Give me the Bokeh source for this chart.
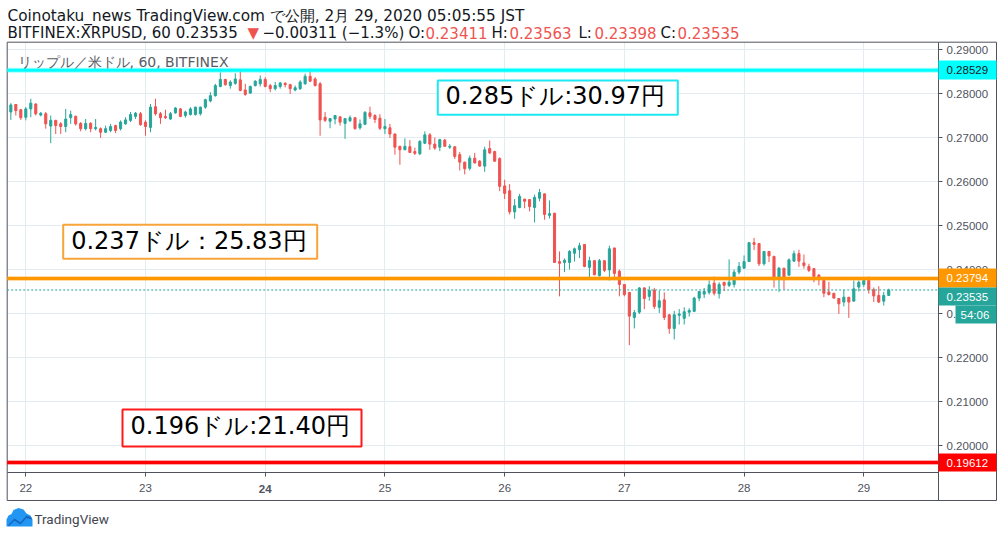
import numpy as np
import pandas as pd
from bokeh.plotting import figure
from bokeh.models import (ColumnDataSource, Label, BoxAnnotation, PolyAnnotation,
                          FixedTicker, NumeralTickFormatter, Range1d)
from bokeh.embed import file_html
from bokeh.resources import INLINE
from bokeh.core.properties import value

# ---------------- data ----------------
first_bar = "2020-02-21 21:00"   # hourly bars, BITFINEX:XRPUSD
opens = [
    .2758, .2775, .2763, .2746, .2765, .2776, .2751, .2754, .2726, .2739,
    .2731, .2725, .2745, .2748, .2732, .2720, .2732, .2720, .2720, .2712,
    .2716, .2727, .2720, .2731, .2739, .2748, .2754, .2735, .2723, .2770,
    .2754, .2748, .2742, .2756, .2765, .2750, .2752, .2752, .2754, .2769,
    .2783, .2795, .2816, .2832, .2818, .2823, .2831, .2808, .2801, .2818,
    .2822, .2832, .2818, .2811, .2816, .2823, .2820, .2808, .2811, .2822,
    .2839, .2833, .2822, .2746, .2737, .2742, .2747, .2732, .2738, .2745,
    .2722, .2730, .2756, .2750, .2744, .2720, .2722, .2708, .2680, .2672,
    .2679, .2668, .2663, .2687, .2706, .2685, .2678, .2694, .2678, .2679,
    .2661, .2644, .2630, .2653, .2646, .2635, .2675, .2668, .2652, .2590,
    .2579, .2531, .2541, .2560, .2559, .2541, .2562, .2572, .2523, .2528,
    .2418, .2416, .2416, .2437, .2445, .2457, .2405, .2420, .2386, .2420,
    .2399, .2449, .2396, .2366, .2348, .2291, .2303, .2358, .2339, .2353,
    .2314, .2331, .2297, .2266, .2296, .2289, .2303, .2305, .2335, .2344,
    .2348, .2369, .2345, .2371, .2364, .2366, .2394, .2403, .2418, .2461,
    .2459, .2413, .2441, .2430, .2383, .2403, .2387, .2419, .2436, .2415,
    .2407, .2402, .2387, .2375, .2349, .2346, .2334, .2326, .2337, .2328,
    .2360, .2366, .2375, .2354, .2341, .2328, .23411,
]
highs = [
    .2778, .2776, .2765, .2769, .2788, .2778, .2758, .2758, .2750, .2740,
    .2735, .2765, .2761, .2750, .2735, .2742, .2735, .2742, .2723, .2727,
    .2731, .2729, .2739, .2746, .2758, .2758, .2758, .2739, .2776, .2788,
    .2758, .2763, .2758, .2769, .2767, .2761, .2769, .2770, .2770, .2788,
    .2803, .2822, .2848, .2833, .2830, .2846, .2852, .2822, .2818, .2830,
    .2841, .2837, .2822, .2826, .2826, .2826, .2822, .2818, .2830, .2845,
    .2856, .2837, .2826, .2758, .2743, .2751, .2747, .2743, .2750, .2745,
    .2741, .2760, .2770, .2753, .2753, .2742, .2731, .2709, .2681, .2698,
    .2694, .2677, .2694, .2714, .2710, .2700, .2697, .2697, .2685, .2679,
    .2667, .2645, .2659, .2665, .2649, .2679, .2693, .2670, .2655, .2604,
    .2594, .2560, .2572, .2560, .2559, .2570, .2583, .2572, .2557, .2528,
    .2441, .2425, .2444, .2450, .2461, .2457, .2429, .2420, .2424, .2420,
    .2454, .2449, .2400, .2367, .2348, .2308, .2360, .2360, .2362, .2358,
    .2352, .2348, .2299, .2306, .2310, .2314, .2312, .2338, .2350, .2358,
    .2375, .2384, .2371, .2371, .2423, .2400, .2417, .2432, .2462, .2472,
    .2459, .2441, .2441, .2430, .2406, .2403, .2425, .2443, .2445, .2434,
    .2413, .2402, .2390, .2375, .2372, .2346, .2334, .2354, .2337, .2375,
    .2375, .2383, .2384, .2359, .2362, .2349, .23563,
]
lows = [
    .2740, .2750, .2740, .2739, .2746, .2750, .2748, .2720, .2687, .2708,
    .2708, .2712, .2731, .2727, .2714, .2716, .2712, .2716, .2699, .2710,
    .2712, .2710, .2716, .2729, .2735, .2742, .2727, .2704, .2712, .2750,
    .2731, .2742, .2740, .2754, .2746, .2745, .2750, .2750, .2750, .2765,
    .2780, .2793, .2814, .2818, .2811, .2820, .2805, .2795, .2799, .2816,
    .2816, .2814, .2803, .2807, .2811, .2814, .2799, .2805, .2808, .2820,
    .2826, .2816, .2704, .2735, .2721, .2730, .2727, .2697, .2735, .2718,
    .2718, .2728, .2742, .2733, .2717, .2708, .2699, .2661, .2638, .2672,
    .2665, .2660, .2660, .2685, .2672, .2672, .2669, .2680, .2674, .2651,
    .2625, .2616, .2625, .2642, .2634, .2622, .2662, .2646, .2578, .2560,
    .2525, .2515, .2539, .2539, .2532, .2507, .2555, .2513, .2516, .2416,
    .2339, .2394, .2400, .2418, .2426, .2405, .2382, .2387, .2384, .2394,
    .2375, .2379, .2339, .2339, .2228, .2266, .2299, .2310, .2329, .2310,
    .2301, .2285, .2254, .2241, .2275, .2275, .2293, .2303, .2328, .2335,
    .2343, .2341, .2334, .2351, .2360, .2359, .2389, .2402, .2417, .2444,
    .2408, .2409, .2417, .2359, .2349, .2354, .2387, .2417, .2406, .2402,
    .2394, .2371, .2364, .2337, .2341, .2334, .2299, .2316, .2290, .2328,
    .2350, .2360, .2345, .2326, .2324, .2318, .23398,
]
closes = [
    .2774, .2761, .2745, .2765, .2778, .2754, .2755, .2731, .2739, .2727,
    .2725, .2742, .2752, .2731, .2720, .2732, .2720, .2723, .2712, .2720,
    .2725, .2716, .2735, .2740, .2752, .2755, .2729, .2725, .2769, .2754,
    .2745, .2745, .2754, .2767, .2748, .2758, .2765, .2769, .2769, .2786,
    .2795, .2818, .2832, .2820, .2826, .2833, .2807, .2798, .2816, .2828,
    .2832, .2816, .2811, .2818, .2824, .2820, .2811, .2813, .2826, .2839,
    .2828, .2818, .2740, .2739, .2743, .2750, .2735, .2743, .2745, .2720,
    .2731, .2757, .2748, .2741, .2721, .2725, .2708, .2678, .2672, .2680,
    .2666, .2664, .2691, .2706, .2685, .2676, .2695, .2680, .2680, .2657,
    .2644, .2629, .2653, .2642, .2635, .2672, .2665, .2646, .2589, .2573,
    .2531, .2545, .2566, .2555, .2543, .2564, .2575, .2525, .2527, .2416,
    .2414, .2421, .2441, .2447, .2454, .2407, .2420, .2388, .2420, .2398,
    .2447, .2391, .2366, .2343, .2294, .2302, .2358, .2334, .2352, .2316,
    .2329, .2291, .2266, .2297, .2299, .2304, .2307, .2335, .2350, .2350,
    .2365, .2346, .2366, .2364, .2371, .2394, .2407, .2418, .2461, .2457,
    .2413, .2441, .2431, .2383, .2403, .2383, .2422, .2436, .2419, .2409,
    .2398, .2384, .2383, .2346, .2343, .2335, .2322, .2337, .2326, .2356,
    .2371, .2375, .2354, .2340, .2326, .2341, .23535,
]
price_ticks = [0.20, 0.21, 0.22, 0.23, 0.24, 0.25, 0.26, 0.27, 0.28, 0.29]
level_prices = [0.28529, 0.23794, 0.19612]
level_colors = ["#00ffff", "#ff9800", "#ff0000"]
last_price = 0.23535
change_text = "−0.00311 (−1.3%)"
countdown = "54:06"
header_line1 = "Coinotaku_news TradingView.com で公開, 2月 29, 2020 05:05:55 JST"
legend_text = "リップル／米ドル, 60, BITFINEX"
note_texts = ["0.285ドル:30.97円", "0.237ドル：25.83円", "0.196ドル:21.40円"]

UP, DOWN = "#26a69a", "#ef5350"
AXIS = "#50535e"
GRID = "#e3ecf2"
DARK, RED = "#131722", "#ef5350"

times = pd.date_range(first_bar, periods=len(opens), freq="h")
idx = np.arange(len(opens))
day_idx = [int(i) for i, t in zip(idx, times) if t.hour == 0]
day_lbl = {int(i): str(times[i].day) for i in day_idx}

o = np.array(opens); c = np.array(closes)
src = ColumnDataSource(dict(
    x=idx, open=o, close=c, high=np.array(highs), low=np.array(lows),
    top=np.maximum(o, c), bottom=np.minimum(o, c),
    color=[UP if cc >= oo else DOWN for oo, cc in zip(o, c)],
))

# ---------------- layout geometry (page pixels) ----------------
W, H = 1000, 536
BAR0_PX, BAR_PX = 10.34, 4.988          # bar 0 centre, px per hourly bar
P0_PX, PX_PER_UNIT = 49.0, 4400.0       # y of 0.29, px per 1.0 of price
CH_L, CH_R, CH_T, CH_B = 6.7, 938.0, 41.7, 472.0   # chart pane
OUT_R, OUT_B = 996.0, 500.0                        # outer pane edges

def X(px):
    return (px - BAR0_PX) / BAR_PX

def Y(py):
    return 0.29 - (py - P0_PX) / PX_PER_UNIT

def SY(py):          # screen units are measured from the canvas bottom
    return H - py

p = figure(width=W, height=H, output_backend="svg", toolbar_location=None, title=None,
           x_range=Range1d(X(0), X(W)), y_range=Range1d(Y(H), Y(0)),
           y_axis_location="right",
           min_border=0, min_border_left=0, min_border_right=0,
           min_border_top=0, min_border_bottom=0)
p.background_fill_color = "white"
p.border_fill_color = "white"
p.outline_line_color = None

# axes (fixed at the pane edges)
ya = p.yaxis[0]
ya.fixed_location = X(CH_R)
ya.bounds = (Y(OUT_B), Y(CH_T))
ya.ticker = FixedTicker(ticks=price_ticks)
ya.formatter = NumeralTickFormatter(format="0.00000")
xa = p.xaxis[0]
xa.fixed_location = Y(CH_B)
xa.bounds = (X(CH_L), X(CH_R))
xa.ticker = FixedTicker(ticks=day_idx)
k24 = [k for k, v in day_lbl.items() if v == "24"][0]
ov = dict(day_lbl)
ov[k24] = ""
xa.major_label_overrides = ov
for ax in (xa, ya):
    ax.axis_line_color = AXIS
    ax.major_tick_line_color = AXIS
    ax.major_tick_out = 4
    ax.major_tick_in = 0
    ax.minor_tick_line_color = None
    ax.major_label_text_font = "Liberation Sans"
    ax.major_label_text_font_size = "11.5px"
    ax.major_label_text_color = AXIS
    ax.major_label_standoff = 4
xa.major_label_standoff = 7
p.xgrid.ticker = FixedTicker(ticks=day_idx)
p.ygrid.ticker = FixedTicker(ticks=price_ticks)
p.xgrid.grid_line_color = GRID
p.ygrid.grid_line_color = GRID

# white masks: grid only inside the chart pane
masks = dict(left=[X(0), X(0), X(CH_R + 0.5), X(0)],
             right=[X(W), X(W), X(W), X(CH_L)],
             top=[Y(0), Y(CH_B + 0.5), Y(0), Y(0)],
             bottom=[Y(CH_T), Y(H), Y(H), Y(H)])
p.quad(**masks, fill_color="white", line_color=None)

# outer pane frame
p.quad(left=[X(CH_L)], right=[X(OUT_R)], top=[Y(CH_T)], bottom=[Y(OUT_B)],
       fill_alpha=0, line_color=AXIS, line_width=1)

# legend watermark (under the level lines)
p.text(x=[X(17)], y=[Y(61.3)], text=[legend_text], text_font=value("DejaVu Sans"),
       text_font_size="14px", text_color="#5a5d66", text_baseline="middle")

# candles
p.segment(x0="x", y0="low", x1="x", y1="high", color="color", line_width=1, source=src)
p.vbar(x="x", width=0.42, top="top", bottom="bottom", fill_color="color",
       line_color="color", line_width=1, source=src)

# horizontal levels
for lp, lc in zip(level_prices, level_colors):
    p.segment(x0=[X(CH_L)], x1=[X(CH_R)], y0=[lp], y1=[lp], line_color=lc,
              line_width=5, line_alpha=0.35)
    p.segment(x0=[X(CH_L)], x1=[X(CH_R)], y0=[lp], y1=[lp], line_color=lc, line_width=3)
p.segment(x0=[X(CH_L)], x1=[X(CH_R)], y0=[last_price], y1=[last_price],
          line_color=UP, line_width=1, line_dash="2 2")

# text notes
note_boxes = [
    dict(l=437.3, r=677.3, t=80.0, b=114.3, tx=445.0, ty=95.8, col="#1ee8f2"),
    dict(l=62.7, r=316.7, t=224.3, b=258.3, tx=70.7, ty=240.3, col="#f7a43a"),
    dict(l=122.0, r=361.0, t=409.0, b=446.0, tx=130.0, ty=425.5, col="#ff1a1a"),
]
for t, b in zip(note_texts, note_boxes):
    p.quad(left=[X(b["l"])], right=[X(b["r"])], top=[Y(b["t"])], bottom=[Y(b["b"])],
           fill_color="white", line_color=b["col"], line_width=2)
    p.text(x=[X(b["tx"])], y=[Y(b["ty"])], text=[t], text_font=value("DejaVu Sans"),
           text_font_size="24px", text_color="#000000", text_align="left",
           text_baseline="middle")

# bold "24"
p.add_layout(Label(x=k24, y=Y(488), text="24", text_align="center",
                   text_baseline="middle", text_font="Liberation Sans",
                   text_font_size="11.5px", text_font_style="bold", text_color=AXIS))

# price-scale tags
def tag(top, bottom, fill, text, tcolor, left=CH_R, tx=946):
    p.add_layout(BoxAnnotation(left=left, right=OUT_R, top=SY(top), bottom=SY(bottom),
                               left_units="screen", right_units="screen",
                               top_units="screen", bottom_units="screen",
                               fill_color=fill, fill_alpha=1, line_color=None))
    p.add_layout(Label(x=tx, y=SY((top + bottom) / 2), x_units="screen", y_units="screen",
                       text=text, text_baseline="middle", text_font="Liberation Sans",
                       text_font_size="11.5px", text_color=tcolor))

tag(60, 79, level_colors[0], f"{level_prices[0]:.5f}", DARK)
tag(268, 287, level_colors[1], f"{level_prices[1]:.5f}", "white")
tag(287, 305, UP, f"{last_price:.5f}", "white")
tag(305, 323, UP, countdown, "white", left=955, tx=960)
tag(453, 471, level_colors[2], f"{level_prices[2]:.5f}", "white")

# header
HF = "DejaVu Sans"
p.add_layout(Label(x=7, y=SY(15), x_units="screen", y_units="screen",
                   text=header_line1, text_font=HF, text_font_size="15.3px",
                   text_color=DARK, text_baseline="middle"))
segments = [
    (f"BITFINEX:XRPUSD, 60 {closes[-1]:.5f}", DARK, 7),
    ("▼", RED, 247),
    (change_text, DARK, 262),
    ("O:", DARK, 408), (f"{opens[-1]:.5f}", RED, 425),
    ("H:", DARK, 491), (f"{highs[-1]:.5f}", RED, 509),
    ("L:", DARK, 578), (f"{lows[-1]:.5f}", RED, 594),
    ("C:", DARK, 660), (f"{closes[-1]:.5f}", RED, 677),
]
for txt, col, px in segments:
    p.add_layout(Label(x=px, y=SY(32), x_units="screen", y_units="screen",
                       text=txt, text_font=HF, text_font_size="15px", text_color=col,
                       text_baseline="middle"))

# footer logo
cloud_x = [6, 32, 32, 30, 26, 23, 18, 13, 11, 8, 6]
cloud_y = [526, 526, 519, 515, 513, 509, 507.5, 509.5, 513.5, 515, 519]
p.add_layout(PolyAnnotation(xs=cloud_x, ys=[SY(v) for v in cloud_y],
                            xs_units="screen", ys_units="screen",
                            fill_color="#2196f3", fill_alpha=1, line_color=None))
zig_x = [8, 14, 20, 26, 31, 31, 26, 20, 14, 8]
zig_y = [524, 518, 522, 515, 517, 519, 517.5, 524, 520, 526]
p.add_layout(PolyAnnotation(xs=zig_x, ys=[SY(v) for v in zig_y],
                            xs_units="screen", ys_units="screen",
                            fill_color="#1565c0", fill_alpha=1, line_color=None))
p.add_layout(Label(x=34, y=SY(518.3), x_units="screen", y_units="screen",
                   text="TradingView", text_font="Roboto", text_font_size="13.5px",
                   text_color="#434651", text_baseline="middle"))

open("out.html", "w").write(file_html(p, INLINE, "XRPUSD"))
